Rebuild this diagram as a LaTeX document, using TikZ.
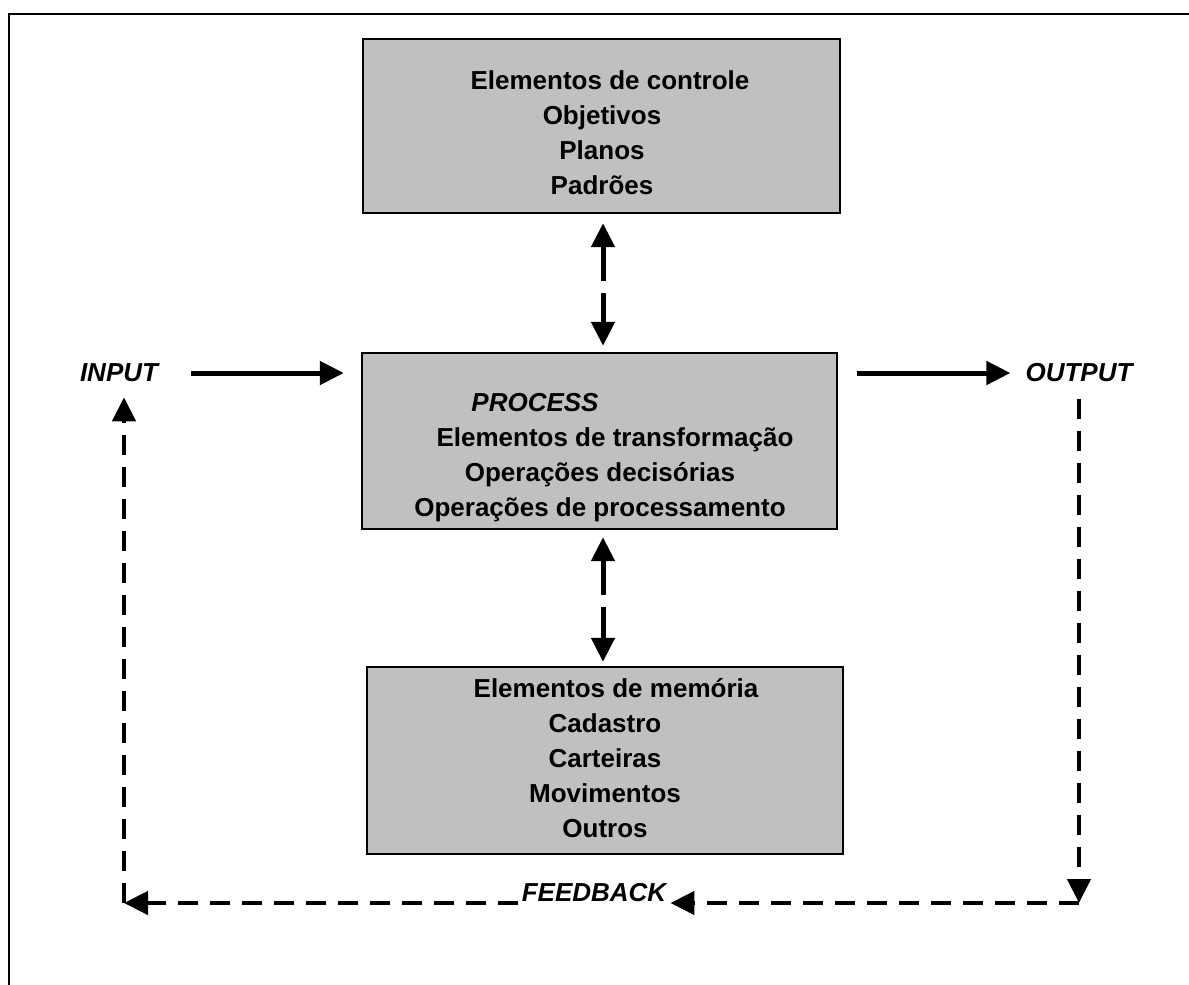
\documentclass[tikz,border=0pt]{standalone}
\usepackage{fontspec}
\setmainfont{Liberation Sans}
\usetikzlibrary{arrows.meta}
\definecolor{boxgray}{RGB}{192,192,192}
\begin{document}
\begin{tikzpicture}[x=1pt,y=-1pt,
  >={Triangle[length=24pt,width=23pt]},
  box/.style={draw=black, line width=2.4pt, fill=boxgray, inner sep=0pt},
  boxtext/.style={align=center, inner sep=0pt, font=\fontsize{26}{35}\selectfont\bfseries},
  tag/.style={inner sep=0pt, font=\fontsize{26}{31}\selectfont\bfseries\itshape},
  flow/.style={line width=5pt, ->},
  duplex/.style={line width=5pt, <->, dash pattern=on 35pt off 12pt on 400pt},
  fbline/.style={line width=4.5pt, ->, dash pattern=on 20pt off 12pt},
]
\useasboundingbox (0,0) rectangle (1189,985);

% page frame
\draw[line width=2pt] (9,990) -- (9,14) -- (1195,14);

% control elements
\node[box, minimum width=477pt, minimum height=174pt] (ctrl) at (601.5,126) {};
\node[boxtext] (ctrltext) at (602,135)
  {\strut\hspace*{16pt}Elementos de controle\\\strut Objetivos\\\strut Planos\\\strut Padrões};

% transformation process
\node[box, minimum width=475pt, minimum height=176pt] (proc) at (599.5,441) {};
\node[boxtext] (proctext) at (600,457)
  {\strut\textit{PROCESS}\hspace*{130pt}\\
   \strut\hspace*{30pt}Elementos de transformação\\
   \strut Operações decisórias\\
   \strut Operações de processamento};

% memory elements
\node[box, minimum width=476pt, minimum height=187pt] (mem) at (605,760.5) {};
\node[boxtext] (memtext) at (605,760)
  {\strut\hspace*{22pt}Elementos de memória\\\strut Cadastro\\\strut Carteiras\\\strut Movimentos\\\strut Outros};

% input, output, feedback labels
\node[tag] (input) at (119,373) {INPUT};
\node[tag] (output) at (1079,373) {OUTPUT};
\node[tag] (feedback) at (594,893) {FEEDBACK};

% main flow
\draw[flow, shorten <=33pt, shorten >=17pt] (input.east) -- (input.east -| proc.west);
\draw[flow, shorten <=19pt, shorten >=15pt] (proc.east |- output.west) -- (output.west);

% exchanges with control and memory
\draw[duplex, shorten <=9pt, shorten >=6pt]
  ([xshift=1.5pt]ctrl.south) -- ([xshift=1.5pt]ctrl.south |- proc.north);
\draw[duplex, shorten <=7pt, shorten >=4pt]
  ([xshift=3.5pt]proc.south) -- ([xshift=3.5pt]proc.south |- mem.north);

% feedback loop
\coordinate (fbR) at (1079,903);
\coordinate (fbL) at (124,903);
\draw[fbline, shorten <=17pt] (output.south -| fbR) -- (fbR);
\draw[fbline, shorten >=4pt] (fbR) -- (feedback.east |- fbR);
\draw[fbline, shorten <=4pt] (feedback.west |- fbL) -- (fbL);
\draw[fbline, shorten >=15pt] (fbL) -- (fbL |- input.south);
\end{tikzpicture}
\end{document}
